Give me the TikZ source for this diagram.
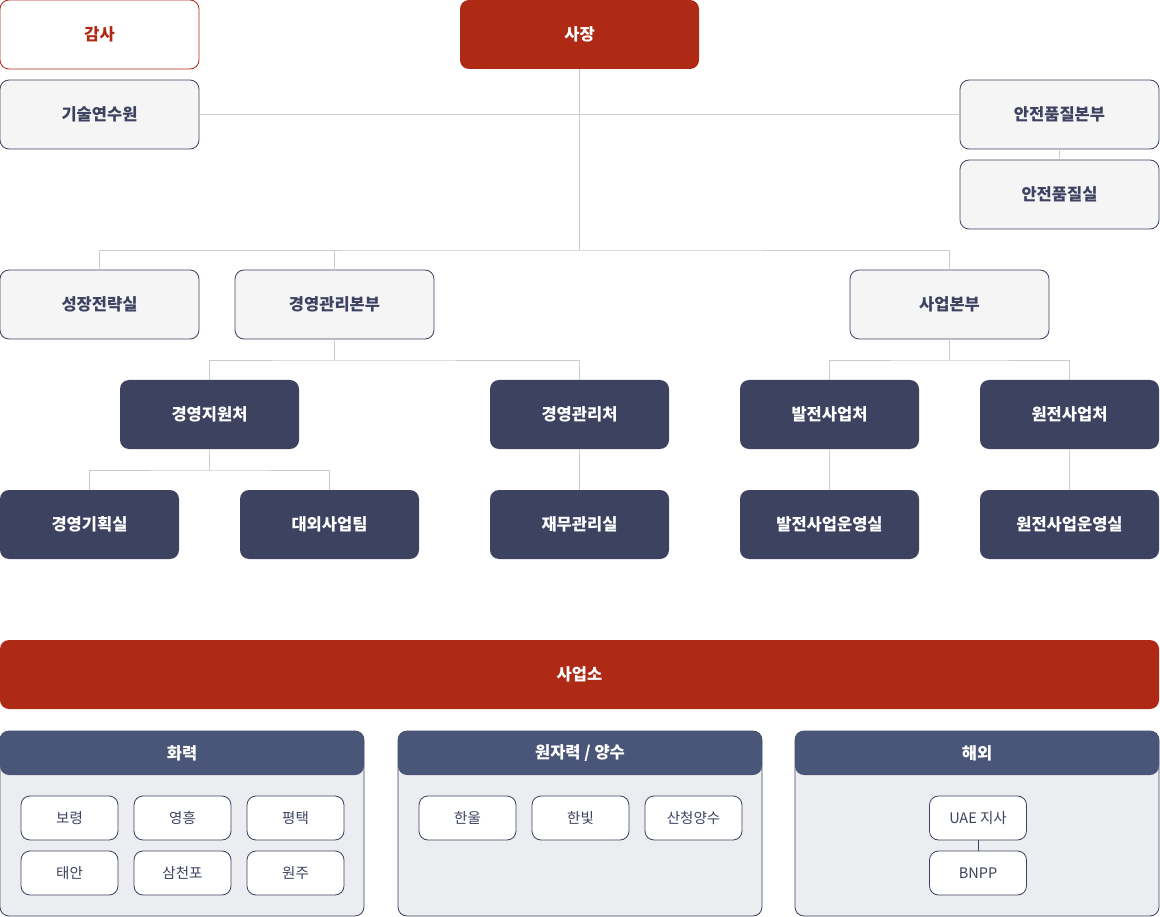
\documentclass[tikz,border=0pt]{standalone}
\usepackage{fontspec}
\setmainfont{Noto Sans CJK KR}
\definecolor{kred}{HTML}{AE2A15}
\definecolor{knavy}{HTML}{3D4260}
\definecolor{klight}{HTML}{F5F5F6}
\definecolor{kline}{HTML}{CCCCCC}
\definecolor{khead}{HTML}{4A5677}
\definecolor{kbody}{HTML}{ECEDF0}
\begin{document}
\begin{tikzpicture}[x=1pt,y=-1pt,
  box/.style={rounded corners=9pt, minimum width=199pt, minimum height=69pt, inner sep=0pt, line width=0.8pt, font=\fontsize{16.5}{19}\selectfont\bfseries},
  redline/.style={box, draw=kred, fill=white, text=kred},
  redfill/.style={box, fill=kred, text=white},
  light/.style={box, draw=knavy, fill=klight, text=knavy},
  dark/.style={box, fill=knavy, text=white, minimum width=179pt},
  conn/.style={draw=kline, line width=0.9pt},
  gbody/.style={rounded corners=9pt, draw=knavy, fill=kbody, line width=0.8pt, minimum width=364pt, minimum height=185pt, inner sep=0pt},
  ghead/.style={rounded corners=9pt, fill=khead, text=white, minimum width=364pt, minimum height=44pt, inner sep=0pt, font=\fontsize{16.5}{19}\selectfont\bfseries},
  small/.style={rounded corners=9pt, draw=knavy, fill=white, text=knavy, line width=0.8pt, minimum width=97pt, minimum height=44pt, inner sep=0pt, font=\fontsize{14.5}{17}\selectfont}
]
\useasboundingbox (0,0) rectangle (1160,917);

% top level
\node[redline] (audit) at (99.5,34.5) {감사};
\node[redfill, minimum width=239pt] (ceo) at (579.5,34.5) {사장};
\node[light] (tech) at (99.5,114.5) {기술연수원};
\node[light] (sqh) at (1059.5,114.5) {안전품질본부};
\node[light] (sqo) at (1059.5,194.5) {안전품질실};

% second level
\node[light] (growth) at (99.5,304.5) {성장전략실};
\node[light] (mgmt) at (334.5,304.5) {경영관리본부};
\node[light] (biz) at (949.5,304.5) {사업본부};

% third level
\node[dark] (support) at (209.5,414.5) {경영지원처};
\node[dark] (mgoff) at (579.5,414.5) {경영관리처};
\node[dark] (gen) at (829.5,414.5) {발전사업처};
\node[dark] (nuc) at (1069.5,414.5) {원전사업처};

% fourth level
\node[dark] (plan) at (89.5,524.5) {경영기획실};
\node[dark] (ext) at (329.5,524.5) {대외사업팀};
\node[dark] (fin) at (579.5,524.5) {재무관리실};
\node[dark] (genop) at (829.5,524.5) {발전사업운영실};
\node[dark] (nucop) at (1069.5,524.5) {원전사업운영실};

% junctions
\coordinate (j1) at (579.5,250);
\coordinate (j2) at (334.5,360);
\coordinate (j3) at (209.5,470);
\coordinate (j4) at (949.5,360);

% connectors
\draw[conn] (tech.east) -- (sqh.west);
\draw[conn] (sqh.south) -- (sqo.north);
\draw[conn] (ceo.south) -- (j1);
\draw[conn] (growth.north) |- (j1) -| (biz.north);
\draw[conn] (mgmt.north) -- (mgmt.north |- j1);
\draw[conn] (mgmt.south) -- (j2);
\draw[conn] (support.north) |- (j2) -| (mgoff.north);
\draw[conn] (support.south) -- (j3);
\draw[conn] (plan.north) |- (j3) -| (ext.north);
\draw[conn] (mgoff.south) -- (fin.north);
\draw[conn] (biz.south) -- (j4);
\draw[conn] (gen.north) |- (j4) -| (nuc.north);
\draw[conn] (gen.south) -- (genop.north);
\draw[conn] (nuc.south) -- (nucop.north);

% 사업소
\node[redfill, minimum width=1159pt] (site) at (579.5,674.5) {사업소};

% groups
\node[gbody] (g1) at (182,823.5) {};
\node[ghead] (h1) at (182,753) {화력};
\node[gbody] (g2) at (580,823.5) {};
\node[ghead] (h2) at (580,753) {원자력 / 양수};
\node[gbody] (g3) at (977,823.5) {};
\node[ghead] (h3) at (977,753) {해외};

\node[small] (boryeong) at (69.5,818) {보령};
\node[small] (yeongheung) at (182.5,818) {영흥};
\node[small] (pyeongtaek) at (295.5,818) {평택};
\node[small] (taean) at (69.5,873) {태안};
\node[small] (samcheonpo) at (182.5,873) {삼천포};
\node[small] (wonju) at (295.5,873) {원주};

\node[small] (hanul) at (467.5,818) {한울};
\node[small] (hanbit) at (580.5,818) {한빛};
\node[small] (sancheong) at (693.5,818) {산청양수};

\node[small] (uae) at (978,818) {UAE 지사};
\node[small] (bnpp) at (978,873) {BNPP};
\draw[draw=knavy, line width=0.8pt] (uae.south) -- (bnpp.north);
\end{tikzpicture}
\end{document}
